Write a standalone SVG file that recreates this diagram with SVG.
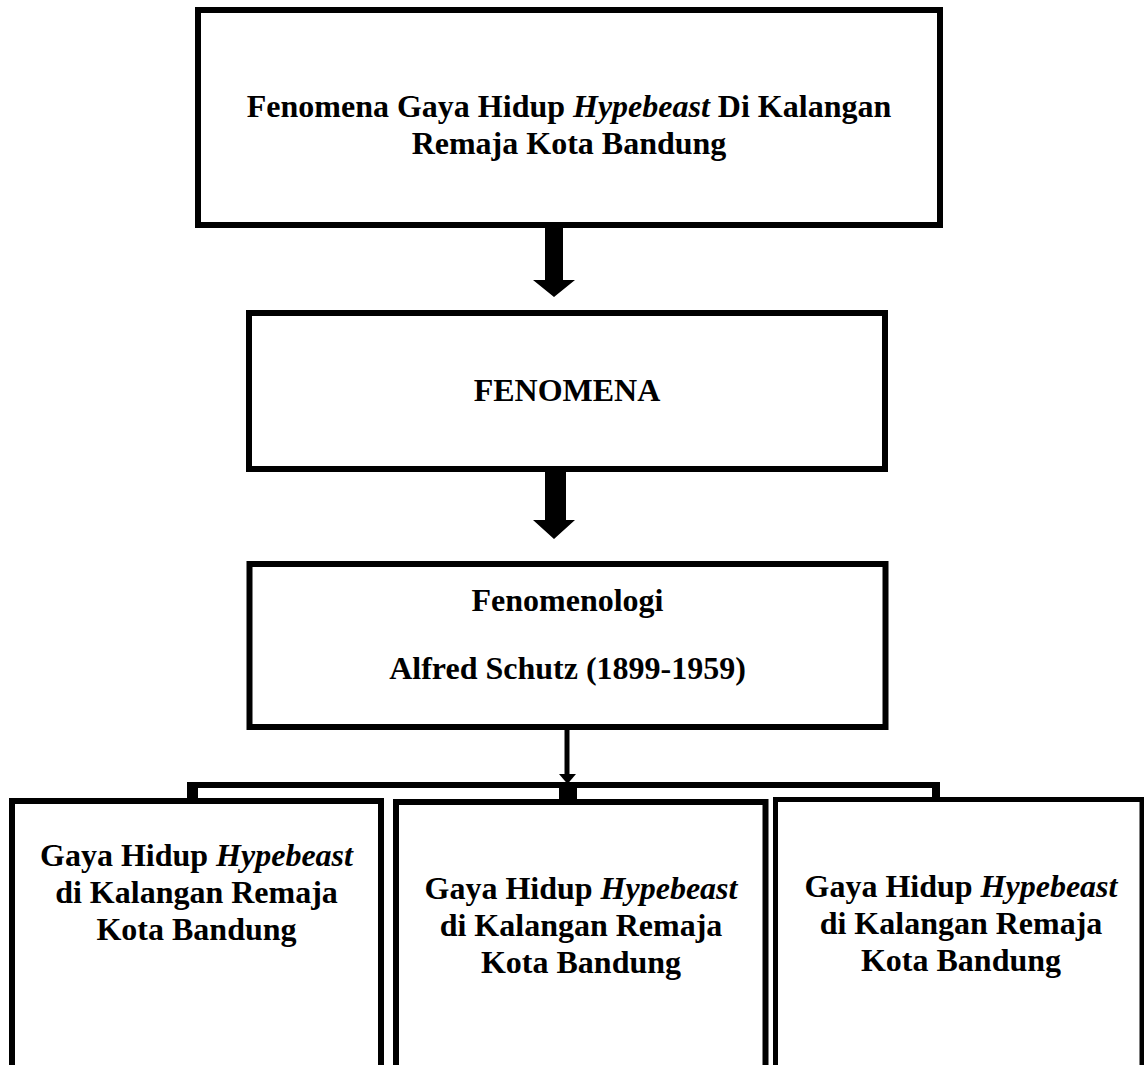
<svg xmlns="http://www.w3.org/2000/svg" width="1144" height="1065" viewBox="0 0 1144 1065">
  <style>
    .box { fill: #ffffff; stroke: #000000; stroke-width: 6; }
    .lbl { font-family: "Liberation Serif", "Times New Roman", serif; font-weight: bold; font-size: 32px; fill: #000000; text-anchor: middle; }
    .it { font-style: italic; }
    .blk { fill: #000000; stroke: none; }
  </style>
  <rect x="0" y="0" width="1144" height="1065" fill="#ffffff"/>

  <g id="node-top">
    <rect class="box" x="198" y="10" width="742" height="215"/>
    <text class="lbl" x="569" y="117">Fenomena Gaya Hidup <tspan class="it">Hypebeast</tspan> Di Kalangan</text>
    <text class="lbl" x="569" y="154">Remaja Kota Bandung</text>
  </g>

  <g id="node-fenomena">
    <rect class="box" x="249" y="313" width="636" height="156"/>
    <text class="lbl" x="567" y="401">FENOMENA</text>
  </g>

  <g id="node-fenomenologi">
    <rect class="box" x="249.5" y="564" width="636" height="163"/>
    <text class="lbl" x="567.5" y="611">Fenomenologi</text>
    <text class="lbl" x="567.5" y="679">Alfred Schutz (1899-1959)</text>
  </g>

  <g id="connectors">
    <polygon class="blk" points="545,225 563,225 563,280 575,280 554,297 533,280 545,280"/>
    <polygon class="blk" points="545,466 566,466 566,520 575,520 554,539 533,520 545,520"/>
    <line x1="567" y1="730" x2="567" y2="777" stroke="#000" stroke-width="5"/>
    <polygon class="blk" points="559,774 576,774 567.5,784"/>
    <rect class="blk" x="187" y="782" width="753" height="6"/>
    <rect class="blk" x="187" y="782" width="11" height="19"/>
    <rect class="blk" x="559" y="782" width="18" height="19"/>
    <rect class="blk" x="932" y="782" width="8" height="17"/>
  </g>

  <g id="node-left">
    <rect class="box" x="12" y="801" width="369" height="300"/>
    <text class="lbl" x="196.5" y="866">Gaya Hidup <tspan class="it">Hypebeast</tspan></text>
    <text class="lbl" x="196.5" y="903">di Kalangan Remaja</text>
    <text class="lbl" x="196.5" y="940">Kota Bandung</text>
  </g>

  <g id="node-middle">
    <rect class="box" x="396" y="802" width="369.5" height="300"/>
    <text class="lbl" x="581" y="899">Gaya Hidup <tspan class="it">Hypebeast</tspan></text>
    <text class="lbl" x="581" y="936">di Kalangan Remaja</text>
    <text class="lbl" x="581" y="973">Kota Bandung</text>
  </g>

  <g id="node-right">
    <rect class="box" x="775.5" y="799.5" width="366.5" height="300" style="stroke-width:5"/>
    <text class="lbl" x="961" y="897">Gaya Hidup <tspan class="it">Hypebeast</tspan></text>
    <text class="lbl" x="961" y="934">di Kalangan Remaja</text>
    <text class="lbl" x="961" y="971">Kota Bandung</text>
  </g>
</svg>
